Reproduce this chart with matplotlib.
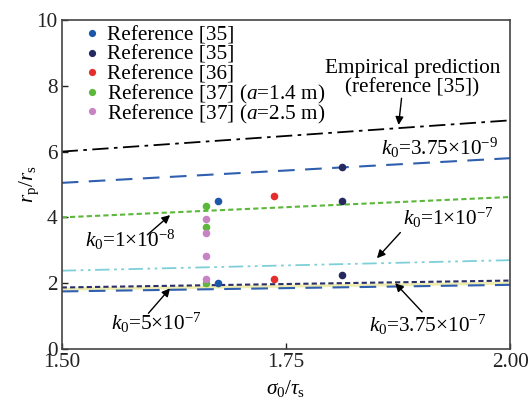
import matplotlib
matplotlib.use("Agg")
import matplotlib.pyplot as plt

plt.rcParams['font.family'] = ['Liberation Serif', 'DejaVu Serif']
plt.rcParams['mathtext.fontset'] = 'custom'
plt.rcParams['mathtext.rm'] = 'Liberation Serif'
plt.rcParams['mathtext.it'] = 'Liberation Serif:italic'
plt.rcParams['mathtext.bf'] = 'Liberation Serif:bold'

# ---- data ----
line_x = [1.5, 2.0]
empirical = [6.0, 6.95]
k375e9 = [5.05, 5.80]
k1e8 = [4.0, 4.62]
k1e7 = [2.38, 2.70]
k5e7 = [1.87, 2.08]
k_yellow = [1.82, 2.00]
k375e7 = [1.75, 1.95]

ref35a_x = [1.674, 1.674]
ref35a_y = [4.51, 2.00]
ref35b_x = [1.8125, 1.8125, 1.8125]
ref35b_y = [5.52, 4.51, 2.25]
ref36_x = [1.737, 1.737]
ref36_y = [4.66, 2.13]
ref37a_x = [1.661, 1.661, 1.661]
ref37a_y = [4.35, 3.72, 2.00]
ref37b_x = [1.661, 1.661, 1.661, 1.661]
ref37b_y = [3.94, 3.52, 2.83, 2.13]

legend_labels = ['Reference [35]', 'Reference [35]', 'Reference [36]',
                 'Reference [37] ($a$=1.4 m)', 'Reference [37] ($a$=2.5 m)']
colors = ['#1d57aa', '#252a5e', '#e52d2d', '#5cb83a', '#c783c3']
xticks = [1.5, 1.75, 2.0]
xticklabels = ['1.50', '1.75', '2.00']
yticks = [0, 2, 4, 6, 8, 10]

fig = plt.figure(figsize=(5.31, 4.01), dpi=100)
ax = fig.add_axes([0.1162, 0.1297, 0.9605 - 0.1162, 0.9501 - 0.1297])

FS = 15.3

# lines
ax.plot(line_x, k_yellow, color='#efecb0', lw=2.2, solid_capstyle='butt', zorder=1)
ax.plot(line_x, empirical, color='black', lw=1.3, dashes=(9, 3, 2, 3), zorder=2)
ax.plot(line_x, k375e9, color='#2f5fae', lw=1.5, dashes=(8, 5), zorder=2)
ax.plot(line_x, k1e8, color='#5cb83a', lw=1.5, dashes=(2.5, 1.5), zorder=2)
ax.plot(line_x, k1e7, color='#7fcfd9', lw=1.3, dashes=(8, 2.5, 1.5, 2.5, 1.5, 2.5), zorder=2)
ax.plot(line_x, k5e7, color='#2a2f6a', lw=1.5, dashes=(2.5, 1.5), zorder=2)
ax.plot(line_x, k375e7, color='#2f5fae', lw=1.5, dashes=(8, 5), zorder=2)

# points
ms = 30
series = [(ref35a_x, ref35a_y), (ref35b_x, ref35b_y), (ref36_x, ref36_y),
          (ref37a_x, ref37a_y), (ref37b_x, ref37b_y)]
for (xs, ys), c in zip(series, colors):
    ax.scatter(xs, ys, s=ms, color=c, zorder=3, linewidths=0)

ax.set_xlim(1.5, 2.0)
ax.set_ylim(0, 10)
ax.set_xticks(xticks)
ax.set_xticklabels(xticklabels)
ax.set_yticks(yticks)
ax.tick_params(direction='in', length=4, width=1, labelsize=FS, top=False, right=False,
               colors='#222222', pad=3)
for s in ax.spines.values():
    s.set_color('#444444')
    s.set_linewidth(1.2)

ax.set_xlabel(r'$\sigma_0/\tau_{\mathrm{s}}$', fontsize=FS, labelpad=4)
ax.set_ylabel(r'$r_{\mathrm{p}}/r_{\mathrm{s}}$', fontsize=FS, labelpad=-3)

# manual legend (uniform row spacing)
leg_y0 = 0.9605
leg_dy = 0.0593
for i, (lab, c) in enumerate(zip(legend_labels, colors)):
    yy = leg_y0 - i * leg_dy
    ax.plot([0.0676], [yy], 'o', ms=5.2, color=c, mew=0, transform=ax.transAxes,
            clip_on=False, zorder=4)
    ax.text(0.101, yy, lab, fontsize=FS, ha='left', va='center_baseline',
            transform=ax.transAxes)

arrow = dict(arrowstyle='-|>', color='black', lw=1.0, mutation_scale=12, shrinkA=0, shrinkB=0)

ax.text(1.891, 8.22, 'Empirical prediction\n(reference [35])', fontsize=FS, ha='center',
        va='center', linespacing=1.0)
ax.annotate('', xy=(1.8757, 6.81), xytext=(1.879, 7.62), arrowprops=arrow)

ax.text(1.921, 6.11, r'$k_0$=3.75×10$^{-9}$', fontsize=FS, ha='center', va='center')

ax.text(1.931, 3.98, r'$k_0$=1×10$^{-7}$', fontsize=FS, ha='center', va='center')
ax.annotate('', xy=(1.8516, 2.76), xytext=(1.8777, 3.54), arrowprops=arrow)

ax.text(1.908, 0.73, r'$k_0$=3.75×10$^{-7}$', fontsize=FS, ha='center', va='center')
ax.annotate('', xy=(1.872, 2.0), xytext=(1.9018, 1.13), arrowprops=arrow)

ax.text(1.577, 3.31, r'$k_0$=1×10$^{-8}$', fontsize=FS, ha='center', va='center')
ax.annotate('', xy=(1.6209, 4.07), xytext=(1.5955, 3.47), arrowprops=arrow)

ax.text(1.606, 0.79, r'$k_0$=5×10$^{-7}$', fontsize=FS, ha='center', va='center')
ax.annotate('', xy=(1.6209, 1.845), xytext=(1.5967, 1.085), arrowprops=arrow)

fig.savefig('out.png', dpi=100)
